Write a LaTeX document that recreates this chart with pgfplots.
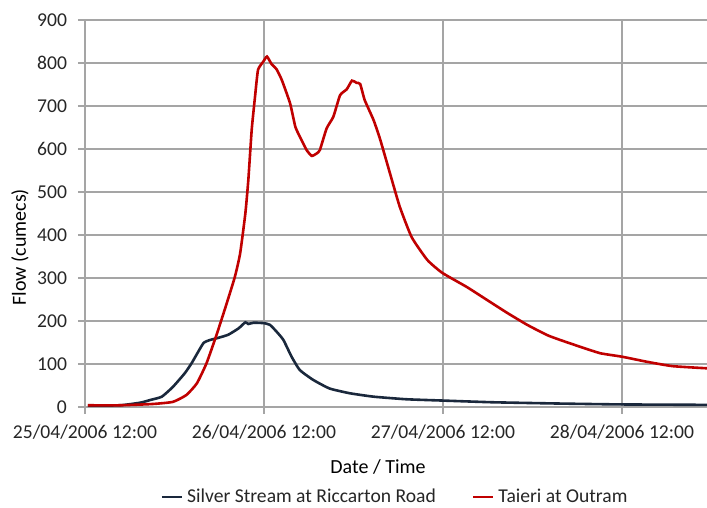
\documentclass[border=0pt]{standalone}
\usepackage{pgfplots}
\pgfplotsset{compat=1.18}
\usepackage{fontspec}
\setmainfont{Carlito}
\definecolor{taieri}{RGB}{192,0,0}
\definecolor{silver}{RGB}{26,40,60}
\definecolor{gridc}{RGB}{165,165,165}
\begin{document}
\begin{tikzpicture}
\begin{axis}[
  scale only axis,
  width=311pt, height=193.5pt,
  xmin=0, xmax=83.4, ymin=0, ymax=900,
  axis x line*=bottom, axis y line*=left,
  axis line style={gridc, line width=0.6pt, -},
  xtick={0,24,48,72},
  xticklabels={25/04/2006 12:00,26/04/2006 12:00,27/04/2006 12:00,28/04/2006 12:00},
  ytick={0,100,...,900},
  tick align=outside,
  major tick length=3.5pt,
  tick style={gridc, line width=0.6pt},
  xmajorgrids, ymajorgrids,
  grid style={gridc, line width=0.6pt},
  every tick label/.append style={font=\fontsize{9.8}{11}\selectfont, text=black!85},
  /pgf/number format/assume math mode=true,
  yticklabel style={xshift=-2pt},
  xticklabel style={yshift=-2pt},
  xlabel={Date / Time},
  ylabel={Flow (cumecs)},
  label style={font=\fontsize{9.8}{11}\selectfont, text=black!85},
  every axis x label/.style={at={(axis description cs:0.471,-0.155)}, anchor=center},
  every axis y label/.style={at={(axis description cs:-0.1045,0.413)}, rotate=90, anchor=center},
  legend style={at={(axis description cs:0.5,-0.2326)}, anchor=center, draw=none,
    font=\fontsize{9.8}{11}\selectfont, text=black!85, legend columns=2,
    /tikz/every even column/.append style={column sep=16pt}},
  legend image code/.code={\draw[#1] (0pt,0pt) -- (10pt,0pt);},
  legend cell align=left,
]
\addplot[silver, line width=1.3pt, smooth, tension=0.3] coordinates {
(0.4,3) (4.7,4) (7.4,10) (8.7,16) (10.3,24) (11.8,47) (13.4,79) (14.3,102) (14.9,120)
(15.9,149) (16.8,156) (17.7,160) (19.2,168) (20.6,183) (21.5,197) (21.9,193) (22.6,196)
(24.0,195) (24.8,191) (25.7,175) (26.6,156) (27.7,117) (28.8,86) (30.6,63) (32.8,43)
(35.5,32) (38.7,24) (43.1,18) (47.9,15) (54.7,11) (63.7,8) (71.7,6) (83.4,5)
};
\addlegendentry{Silver Stream at Riccarton Road}
\addplot[taieri, line width=1.3pt, smooth, tension=0.3] coordinates {
(0.4,4) (4.7,4) (9.1,7) (11.8,12) (13.6,28) (15.0,55) (16.3,102) (17.7,171) (19.0,241)
(20.1,303) (20.8,357) (21.5,450) (21.9,528) (22.35,644) (22.8,722) (23.2,784) (23.9,803)
(24.4,815) (25.0,798) (25.7,785) (26.4,760) (27.5,706) (28.2,652) (28.8,629) (29.7,598)
(30.4,584) (31.1,590) (31.5,598) (32.4,648) (33.3,675) (34.2,725) (35.1,739) (35.8,759)
(36.4,754) (36.9,751) (37.5,714) (38.7,667) (39.6,621) (40.9,543) (42.2,466) (43.8,395)
(45.9,342) (47.9,312) (51.2,279) (53.9,249) (56.6,219) (59.3,191) (62.0,167) (63.7,156)
(66.4,140) (69.1,125) (72.0,117) (75.4,105) (78.8,95) (83.4,90)
};
\addlegendentry{Taieri at Outram}
\end{axis}
\pgfresetboundingbox
\path (current axis.south west) ++(-42.5pt,-50.5pt) rectangle ++(353.5pt,254pt);
\end{tikzpicture}
\end{document}
